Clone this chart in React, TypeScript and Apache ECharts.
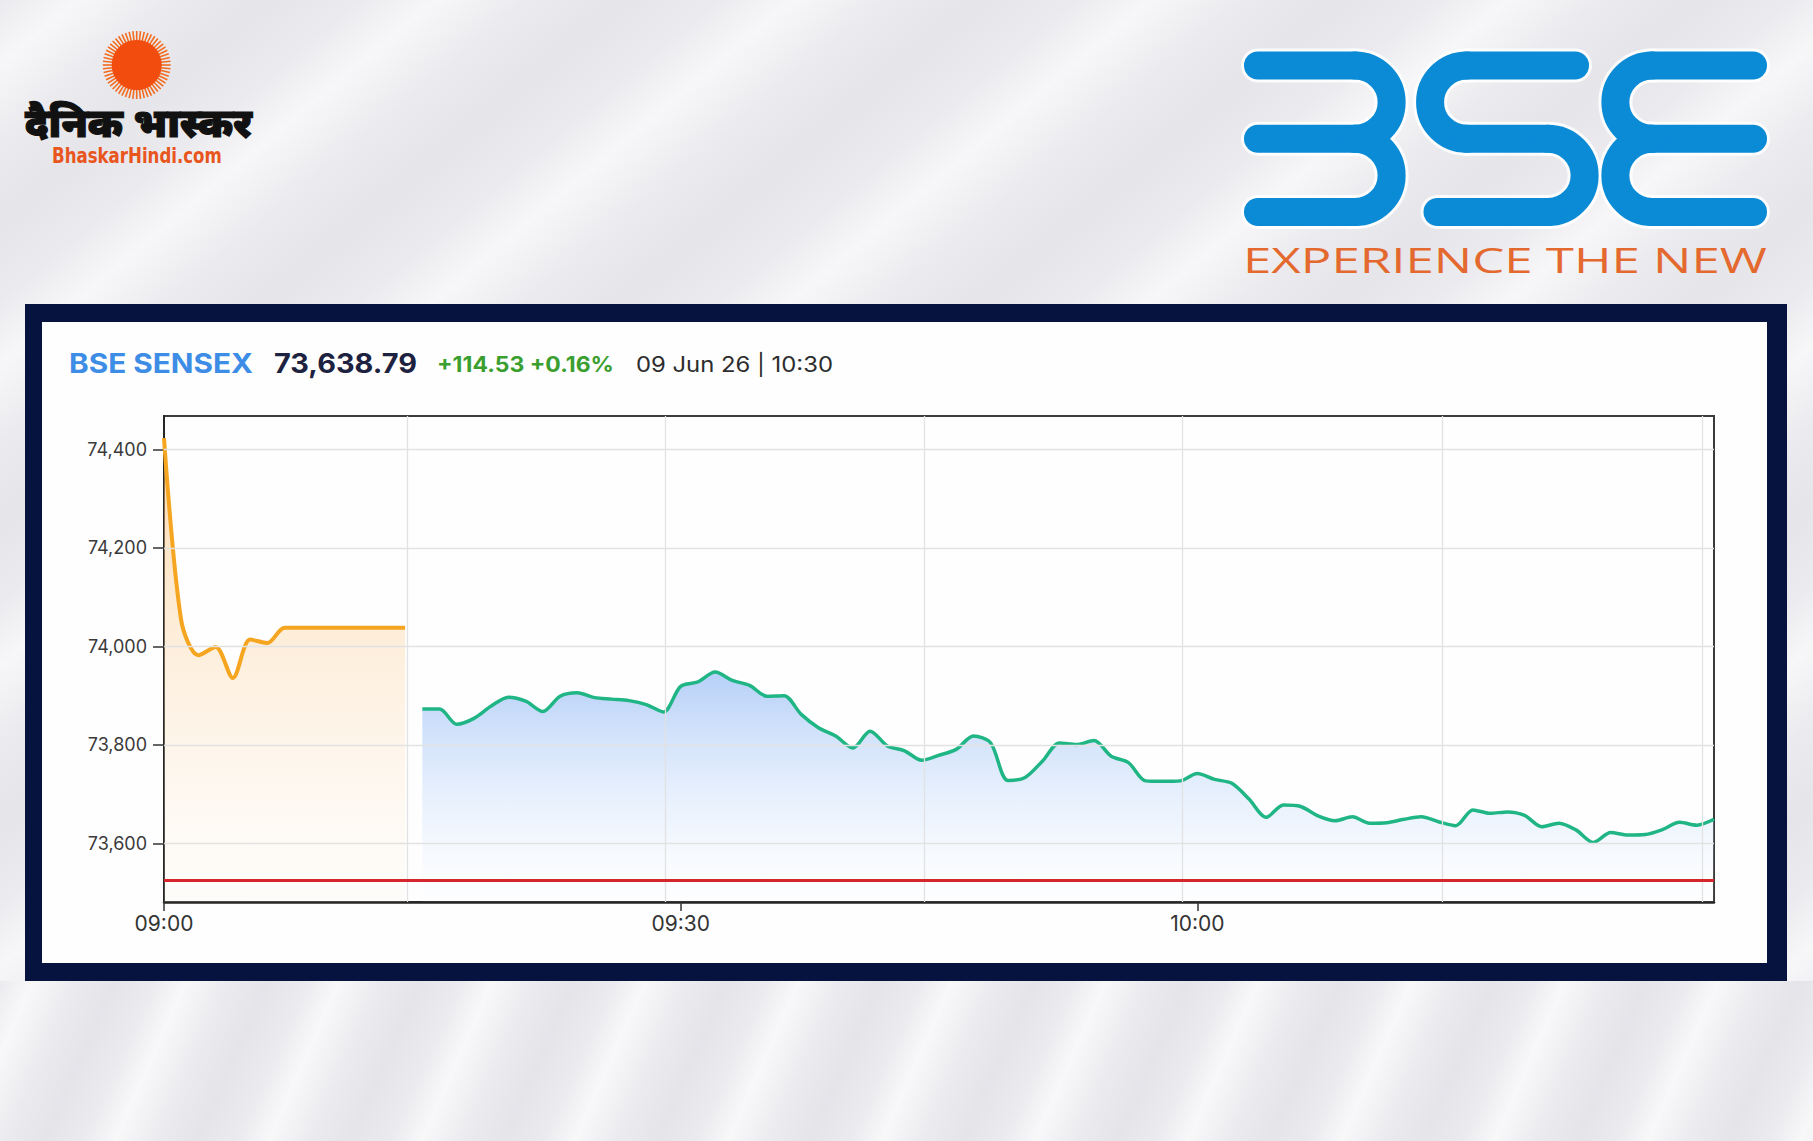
import React, { useEffect, useRef } from 'react';
import * as echarts from 'echarts';

// ---------------- data ----------------
const preOpenTimes = [
  '09:00', '09:01', '09:02', '09:03', '09:04', '09:05', '09:06', '09:07',
  '09:08', '09:09', '09:10', '09:11', '09:12', '09:13', '09:14',
];
const preOpenValues = [
  74423, 74053, 73982, 73999, 73936, 74014, 74007, 74038,
  74038, 74038, 74038, 74038, 74038, 74038, 74038,
];

const sessionTimes = [
  '09:15', '09:16', '09:17', '09:18', '09:19', '09:20', '09:21', '09:22', '09:23', '09:24',
  '09:25', '09:26', '09:27', '09:28', '09:29', '09:30', '09:31', '09:32', '09:33', '09:34',
  '09:35', '09:36', '09:37', '09:38', '09:39', '09:40', '09:41', '09:42', '09:43', '09:44',
  '09:45', '09:46', '09:47', '09:48', '09:49', '09:50', '09:51', '09:52', '09:53', '09:54',
  '09:55', '09:56', '09:57', '09:58', '09:59', '10:00', '10:01', '10:02', '10:03', '10:04',
  '10:05', '10:06', '10:07', '10:08', '10:09', '10:10', '10:11', '10:12', '10:13', '10:14',
  '10:15', '10:16', '10:17', '10:18', '10:19', '10:20', '10:21', '10:22', '10:23', '10:24',
  '10:25', '10:26', '10:27', '10:28', '10:29', '10:30',
];
const sessionValues = [
  73873, 73873, 73842, 73854, 73879, 73897, 73889, 73868, 73899, 73906,
  73896, 73893, 73890, 73882, 73867, 73919, 73928, 73948, 73931, 73921,
  73899, 73900, 73862, 73835, 73818, 73794, 73828, 73798, 73788, 73769,
  73779, 73791, 73818, 73804, 73728, 73734, 73767, 73804, 73801, 73809,
  73777, 73764, 73727, 73726, 73727, 73742, 73730, 73722, 73690, 73653,
  73678, 73675, 73656, 73646, 73654, 73641, 73642, 73649, 73654, 73644,
  73636, 73668, 73661, 73664, 73657, 73634, 73641, 73627, 73602, 73622,
  73617, 73618, 73628, 73643, 73637, 73649,
];

const previousClose = 73524.26;
const yTickValues = [73600, 73800, 74000, 74200, 74400];
const xTickTimes = ['09:00', '09:30', '10:00'];
const verticalGridTimes = ['09:14:06', '09:29:06', '09:44:09', '09:59:06', '10:14:12', '10:29:18'];

const headerIndex = 'BSE SENSEX';
const headerValue = '73,638.79';
const headerChange = '+114.53 +0.16%';
const headerStamp = '09 Jun 26 | 10:30';

const brandHindi = 'दैनिक भास्कर';
const brandSite = 'BhaskarHindi.com';
const bseTagline = 'EXPERIENCE THE NEW';

// ---------------- helpers ----------------
const W = 1813;
const H = 1141;
const START = 9 * 60;

function toMin(t: string): number {
  const p = t.split(':').map(Number);
  return p[0] * 60 + p[1] + (p[2] || 0) / 60 - START;
}
function fmtMin(v: number): string {
  const t = Math.round(v) + START;
  const h = Math.floor(t / 60);
  const m = t % 60;
  return String(h).padStart(2, '0') + ':' + String(m).padStart(2, '0');
}
function fitScale(text: string, font: string, target: number): number {
  const c = document.createElement('canvas').getContext('2d');
  if (!c) return 1;
  c.font = font;
  const w = c.measureText(text).width;
  return w > 0 ? target / w : 1;
}

function fittedText(text: string, font: string, fill: string, x: number, y: number, width: number, z = 10): any {
  return {
    type: 'text', z, x, y,
    scaleX: fitScale(text, font, width),
    style: { text, fill, font, align: 'left', verticalAlign: 'middle' },
  };
}

function buildGraphics(): any[] {
  const els: any[] = [];
  // frame
  els.push({ type: 'rect', z: -2, shape: { x: 25, y: 304, width: 1762, height: 677 }, style: { fill: '#06133f' } });
  els.push({ type: 'rect', z: -1, shape: { x: 42, y: 322, width: 1725, height: 641 }, style: { fill: '#fefefe' } });

  // header texts
  const hy = 363;
  els.push(fittedText(headerIndex, 'bold 27px Inter', '#3d8de6', 69, hy, 184));
  els.push(fittedText(headerValue, 'bold 27px Inter', '#1d2240', 274, hy, 143));
  els.push(fittedText(headerChange, 'bold 21px Inter', '#3a9f2f', 437, hy + 1, 177));
  els.push(fittedText(headerStamp, '21px Inter', '#2d2d2d', 636, hy + 1, 197));

  // Dainik Bhaskar sun
  const scx = 136.7;
  const scy = 65;
  for (let i = 0; i < 56; i++) {
    const a = (i * 2 * Math.PI) / 56;
    els.push({
      type: 'line', z: 5,
      shape: { x1: scx + 24 * Math.cos(a), y1: scy + 24 * Math.sin(a), x2: scx + 34 * Math.cos(a), y2: scy + 34 * Math.sin(a) },
      style: { stroke: '#f36b1f', lineWidth: 1.6 },
    });
  }
  els.push({ type: 'circle', z: 6, shape: { cx: scx, cy: scy, r: 25 }, style: { fill: '#f24d0f' } });

  const hindiFont = '900 40px "Noto Sans", "DejaVu Sans", sans-serif';
  els.push({
    ...fittedText(brandHindi, hindiFont, '#111111', 25, 122, 227, 6),
    style: { text: brandHindi, fill: '#111111', font: hindiFont, align: 'left', verticalAlign: 'middle', stroke: '#111111', lineWidth: 1.2 },
  });
  els.push(fittedText(brandSite, 'bold 21px "DejaVu Sans", sans-serif', '#e8551d', 52, 155, 170, 6));

  // BSE logo
  const blue = '#0b8bd6';
  const bw = 28;
  const T = 65.5;
  const M = 138.75;
  const B = 212;
  const r = (M - T) / 2;
  const strokes: any[] = [];
  const bar = (x1: number, x2: number, y: number) => strokes.push({ type: 'line', shape: { x1, y1: y, x2, y2: y } });
  const arcR = (cx: number, cy: number) => strokes.push({ type: 'arc', shape: { cx, cy, r, startAngle: -Math.PI / 2, endAngle: Math.PI / 2, clockwise: true } });
  const arcL = (cx: number, cy: number) => strokes.push({ type: 'arc', shape: { cx, cy, r, startAngle: Math.PI / 2, endAngle: (3 * Math.PI) / 2, clockwise: true } });
  // "3"
  bar(1258, 1355, T); bar(1258, 1355, M); bar(1258, 1355, B);
  arcR(1355, T + r); arcR(1355, M + r);
  // "S"
  bar(1466.7, 1575, T); arcL(1466.7, T + r); bar(1466.7, 1548, M); arcR(1548, M + r); bar(1437.5, 1548, B);
  // "E"
  bar(1652, 1753, T); bar(1652, 1753, M); bar(1652, 1753, B);
  arcL(1652, T + r); arcL(1652, M + r);
  strokes.forEach((s) => els.push({ ...s, z: 4, style: { stroke: 'rgba(255,255,255,0.85)', lineWidth: bw + 6, lineCap: 'round', fill: null } }));
  strokes.forEach((s) => els.push({ ...s, z: 5, style: { stroke: blue, lineWidth: bw, lineCap: 'round', fill: null } }));

  els.push(fittedText(bseTagline, '400 35px "Open Sans", sans-serif', '#e4692f', 1243, 259, 524, 6));
  return els;
}

export default function App() {
  const ref = useRef<HTMLDivElement>(null);

  useEffect(() => {
    if (!ref.current) return;
    const chart = echarts.init(ref.current, undefined, { renderer: 'svg' });

    const preData = preOpenTimes.map((t, i) => [toMin(t), preOpenValues[i]]);
    const sesData = sessionTimes.map((t, i) => [toMin(t), sessionValues[i]]);
    const xTicks = xTickTimes.map(toMin);

    const gridLineData: any[] = [
      ...verticalGridTimes.map((t) => ({ xAxis: toMin(t) })),
      ...yTickValues.map((v) => ({ yAxis: v })),
    ];

    chart.setOption({
      animation: false,
      backgroundColor: 'transparent',
      textStyle: { fontFamily: 'Inter' },
      grid: {
        left: 164, right: W - 1714, top: 416, bottom: H - 902,
        show: true, borderColor: '#3b3b3b', borderWidth: 2, backgroundColor: 'transparent',
        containLabel: false,
      },
      xAxis: {
        type: 'value', min: 0, max: 90,
        axisLine: { show: true, lineStyle: { color: '#262626', width: 2.5 } },
        axisTick: { show: true, customValues: xTicks, length: 9, inside: false, lineStyle: { color: '#333', width: 1.5 } },
        axisLabel: { show: true, customValues: xTicks, formatter: (v: number) => fmtMin(v), fontSize: 21, color: '#333', margin: 11, fontFamily: 'Inter' },
        splitLine: { show: false },
      },
      yAxis: {
        type: 'value', min: 73481, max: 74468,
        axisLine: { show: true, lineStyle: { color: '#262626', width: 2 } },
        axisTick: { show: true, customValues: yTickValues, length: 11, inside: false, lineStyle: { color: '#333', width: 1.5 } },
        axisLabel: { show: true, customValues: yTickValues, formatter: (v: number) => Number(v).toLocaleString('en-US'), fontSize: 18, color: '#3a3a3a', margin: 17, fontFamily: 'Inter' },
        splitLine: { show: false },
      },
      graphic: { elements: buildGraphics() },
      series: [
        {
          name: 'grid',
          type: 'line',
          data: [],
          z: 1,
          silent: true,
          markLine: {
            silent: true,
            symbol: ['none', 'none'],
            label: { show: false },
            lineStyle: { color: '#e2e2e2', width: 1.3, type: 'solid' },
            data: gridLineData,
          },
        },
        {
          name: 'Pre-open',
          type: 'line',
          data: preData,
          smooth: 0.3,
          showSymbol: false,
          z: 2,
          lineStyle: { color: '#f5a51f', width: 4 },
          areaStyle: {
            origin: 'start',
            color: new echarts.graphic.LinearGradient(0, 0, 0, 1, [
              { offset: 0, color: 'rgba(249,180,95,0.75)' },
              { offset: 0.3, color: 'rgba(251,205,145,0.62)' },
              { offset: 1, color: 'rgba(255,244,230,0.25)' },
            ]),
          },
        },
        {
          name: 'Session',
          type: 'line',
          data: sesData,
          smooth: 0.3,
          showSymbol: false,
          z: 3,
          lineStyle: { color: '#20b584', width: 3.5 },
          areaStyle: {
            origin: 'start',
            color: new echarts.graphic.LinearGradient(0, 0, 0, 1, [
              { offset: 0, color: 'rgba(110,162,242,0.72)' },
              { offset: 0.7, color: 'rgba(200,222,252,0.35)' },
              { offset: 1, color: 'rgba(240,246,255,0.08)' },
            ]),
          },
          markLine: {
            silent: true,
            symbol: ['none', 'none'],
            label: { show: false },
            lineStyle: { color: '#d6262d', width: 2.8, type: 'solid' },
            data: [{ yAxis: previousClose }],
          },
        },
      ],
    });

    return () => chart.dispose();
  }, []);

  const topBg =
    'repeating-linear-gradient(140deg, rgba(255,255,255,0) 0px, rgba(255,255,255,0.6) 50px, rgba(255,255,255,0) 110px, rgba(200,200,210,0.18) 170px, rgba(255,255,255,0) 230px), #ebebef';
  const bottomBg =
    'repeating-linear-gradient(114deg, rgba(255,255,255,0) 0px, rgba(255,255,255,0.65) 30px, rgba(255,255,255,0) 70px, rgba(200,200,210,0.2) 105px, rgba(255,255,255,0) 140px), #ebebef';

  return (
    <div style={{ position: 'absolute', left: 0, top: 0, width: W, height: H, background: topBg, overflow: 'hidden' }}>
      <div style={{ position: 'absolute', left: 0, top: 981, width: W, height: H - 981, background: bottomBg }} />
      <div ref={ref} style={{ position: 'absolute', left: 0, top: 0, width: W, height: H }} />
    </div>
  );
}
